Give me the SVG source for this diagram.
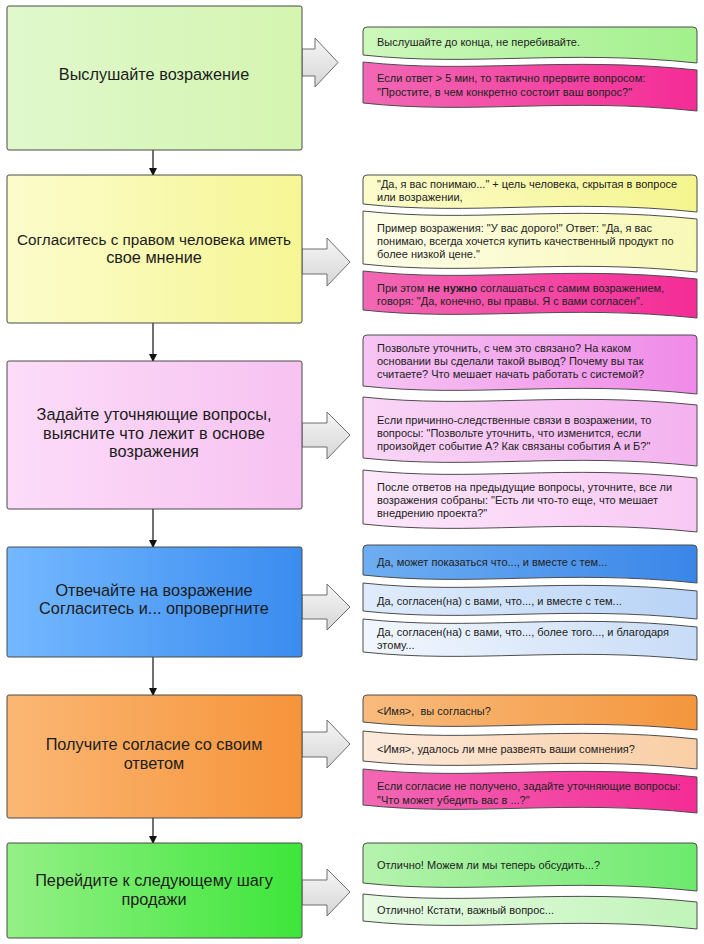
<svg xmlns="http://www.w3.org/2000/svg" width="704" height="944" viewBox="0 0 704 944">
<defs>
<linearGradient id="gB1" x1="0" y1="0" x2="1" y2="0"><stop offset="0" stop-color="#e0f8cc"/><stop offset="1" stop-color="#d4f5b0"/></linearGradient>
<linearGradient id="gB2" x1="0" y1="0" x2="1" y2="0"><stop offset="0" stop-color="#fcfccc"/><stop offset="1" stop-color="#f6f694"/></linearGradient>
<linearGradient id="gB3" x1="0" y1="0" x2="1" y2="0"><stop offset="0" stop-color="#fcdcf9"/><stop offset="1" stop-color="#f7c2f1"/></linearGradient>
<linearGradient id="gB4" x1="0" y1="0" x2="1" y2="0"><stop offset="0" stop-color="#74b8ff"/><stop offset="1" stop-color="#3a8cf0"/></linearGradient>
<linearGradient id="gB5" x1="0" y1="0" x2="1" y2="0"><stop offset="0" stop-color="#fbb774"/><stop offset="1" stop-color="#f6943a"/></linearGradient>
<linearGradient id="gB6" x1="0" y1="0" x2="1" y2="0"><stop offset="0" stop-color="#94f086"/><stop offset="1" stop-color="#3de63a"/></linearGradient>
<linearGradient id="gArr" x1="0" y1="0" x2="0" y2="1"><stop offset="0" stop-color="#f6f6f6"/><stop offset="1" stop-color="#d6d6d6"/></linearGradient>
<linearGradient id="nGreen" x1="0" y1="0" x2="1" y2="0"><stop offset="0" stop-color="#cdf8bc"/><stop offset="1" stop-color="#a2f08c"/></linearGradient>
<linearGradient id="nPink" x1="0" y1="0" x2="1" y2="0"><stop offset="0" stop-color="#f268b4"/><stop offset="1" stop-color="#f42c96"/></linearGradient>
<linearGradient id="nY1" x1="0" y1="0" x2="1" y2="0"><stop offset="0" stop-color="#fcfccc"/><stop offset="1" stop-color="#f5f58e"/></linearGradient>
<linearGradient id="nY2" x1="0" y1="0" x2="1" y2="0"><stop offset="0" stop-color="#fefee8"/><stop offset="1" stop-color="#f8f8b6"/></linearGradient>
<linearGradient id="nV1" x1="0" y1="0" x2="1" y2="0"><stop offset="0" stop-color="#f6c4f3"/><stop offset="1" stop-color="#f08ae8"/></linearGradient>
<linearGradient id="nV2" x1="0" y1="0" x2="1" y2="0"><stop offset="0" stop-color="#f9d6f7"/><stop offset="1" stop-color="#f4b2ef"/></linearGradient>
<linearGradient id="nV3" x1="0" y1="0" x2="1" y2="0"><stop offset="0" stop-color="#fde8fb"/><stop offset="1" stop-color="#f8c8f4"/></linearGradient>
<linearGradient id="nBl1" x1="0" y1="0" x2="1" y2="0"><stop offset="0" stop-color="#6eaef2"/><stop offset="1" stop-color="#3a86e8"/></linearGradient>
<linearGradient id="nBl2" x1="0" y1="0" x2="1" y2="0"><stop offset="0" stop-color="#e0ecfc"/><stop offset="1" stop-color="#b8d3f6"/></linearGradient>
<linearGradient id="nBl3" x1="0" y1="0" x2="1" y2="0"><stop offset="0" stop-color="#f2f7fe"/><stop offset="1" stop-color="#c8dcf7"/></linearGradient>
<linearGradient id="nO1" x1="0" y1="0" x2="1" y2="0"><stop offset="0" stop-color="#f9bb7e"/><stop offset="1" stop-color="#f4963c"/></linearGradient>
<linearGradient id="nO2" x1="0" y1="0" x2="1" y2="0"><stop offset="0" stop-color="#fdeadb"/><stop offset="1" stop-color="#f9cea4"/></linearGradient>
<linearGradient id="nG1" x1="0" y1="0" x2="1" y2="0"><stop offset="0" stop-color="#b6f3ae"/><stop offset="1" stop-color="#6cea6c"/></linearGradient>
<linearGradient id="nG2" x1="0" y1="0" x2="1" y2="0"><stop offset="0" stop-color="#e8fbe4"/><stop offset="1" stop-color="#c0f4b8"/></linearGradient>
<marker id="ah" markerWidth="8" markerHeight="8" refX="7" refY="4" orient="auto" markerUnits="userSpaceOnUse"><path d="M0,0 L8,4 L0,8 Z" fill="#111"/></marker>
</defs>
<style>
.box{stroke:#4a4a4a;stroke-width:1}
.note{stroke:#4d4d4d;stroke-width:1}
.bt{font-family:"Liberation Sans",Arial,sans-serif;font-size:16.3px;fill:#1c1c1c;text-anchor:middle}
.nt{font-family:"Liberation Sans",Arial,sans-serif;font-size:11px;fill:#222;white-space:pre}
.garr{fill:url(#gArr);stroke:#6e6e6e;stroke-width:1}
.conn{stroke:#111;stroke-width:1.2;fill:none}
</style>
<rect width="704" height="944" fill="#ffffff"/>

<g id="connectors">
<line class="conn" x1="153" y1="150" x2="153" y2="175" marker-end="url(#ah)"/>
<line class="conn" x1="153" y1="323" x2="153" y2="361" marker-end="url(#ah)"/>
<line class="conn" x1="153" y1="509" x2="153" y2="547" marker-end="url(#ah)"/>
<line class="conn" x1="153" y1="657" x2="153" y2="695" marker-end="url(#ah)"/>
<line class="conn" x1="153" y1="818" x2="153" y2="843" marker-end="url(#ah)"/>
<path class="garr" d="M302,49 L315,49 L315,38 L338,62.5 L315,87 L315,76 L302,76 Z"/>
<path class="garr" d="M302,249 L327,249 L327,238 L350,262 L327,286 L327,274 L302,274 Z"/>
<path class="garr" d="M302,423 L327,423 L327,412 L350,435 L327,459 L327,447 L302,447 Z"/>
<path class="garr" d="M302,595 L327,595 L327,584 L350,607 L327,630 L327,619 L302,619 Z"/>
<path class="garr" d="M302,732 L327,732 L327,720 L350,744 L327,768 L327,757 L302,757 Z"/>
<path class="garr" d="M302,880 L327,880 L327,869 L350,892 L327,916 L327,905 L302,905 Z"/>
</g>

<g id="step1">
<rect class="box" x="7" y="6" width="295" height="144" rx="2" fill="url(#gB1)"/>
<text class="bt" x="154" y="79.5">Выслушайте возражение</text>
</g>
<g id="step2">
<rect class="box" x="7" y="175" width="295" height="148" rx="2" fill="url(#gB2)"/>
<text class="bt" x="154" y="244.5" style="font-size:15.3px">Согласитесь с правом человека иметь</text>
<text class="bt" x="154" y="262.5">свое мнение</text>
</g>
<g id="step3">
<rect class="box" x="7" y="361" width="295" height="148" rx="2" fill="url(#gB3)"/>
<text class="bt" x="154" y="420">Задайте уточняющие вопросы,</text>
<text class="bt" x="154" y="439">выясните что лежит в основе</text>
<text class="bt" x="154" y="457">возражения</text>
</g>
<g id="step4">
<rect class="box" x="7" y="547" width="295" height="110" rx="2" fill="url(#gB4)"/>
<text class="bt" x="154" y="596">Отвечайте на возражение</text>
<text class="bt" x="154" y="614">Согласитесь и... опровергните</text>
</g>
<g id="step5">
<rect class="box" x="7" y="695" width="295" height="123" rx="2" fill="url(#gB5)"/>
<text class="bt" x="154" y="750">Получите согласие со своим</text>
<text class="bt" x="154" y="769">ответом</text>
</g>
<g id="step6">
<rect class="box" x="7" y="843" width="295" height="95" rx="2" fill="url(#gB6)"/>
<text class="bt" x="154" y="886">Перейдите к следующему шагу</text>
<text class="bt" x="154" y="905">продажи</text>
</g>

<g id="note1a">
<path class="note" fill="url(#nGreen)" d="M363,31 Q363,27 367,27 L693,27 Q697,27 697,31 L697,63 C563,49 474,67 363,55 Z"/>
<text class="nt" x="377" y="46">Выслушайте до конца, не перебивайте.</text>
</g>
<g id="note1b">
<path class="note" fill="url(#nPink)" d="M363,62 C474,74 563,56 697,70 L697,111 C563,97 474,115 363,103 Z"/>
<text class="nt" x="377" y="82">Если ответ &gt; 5 мин, то тактично прервите вопросом:</text>
<text class="nt" x="377" y="96">"Простите, в чем конкретно состоит ваш вопрос?"</text>
</g>

<g id="note2a">
<path class="note" fill="url(#nY1)" d="M363,179 Q363,175 367,175 L693,175 Q697,175 697,179 L697,212 C563,198 474,216 363,204 Z"/>
<text class="nt" x="377" y="188">"Да, я вас понимаю..." + цель человека, скрытая в вопросе</text>
<text class="nt" x="377" y="201">или возражении,</text>
</g>
<g id="note2b">
<path class="note" fill="url(#nY2)" d="M363,211 C474,223 563,205 697,219 L697,272 C563,258 474,276 363,264 Z"/>
<text class="nt" x="377" y="232">Пример возражения: "У вас дорого!" Ответ: "Да, я вас</text>
<text class="nt" x="377" y="245">понимаю, всегда хочется купить качественный продукт по</text>
<text class="nt" x="377" y="258">более низкой цене."</text>
</g>
<g id="note2c">
<path class="note" fill="url(#nPink)" d="M363,271 C474,283 563,265 697,279 L697,318 C563,304 474,322 363,310 Z"/>
<text class="nt" x="377" y="292">При этом <tspan font-weight="bold">не нужно</tspan> соглашаться с самим возражением,</text>
<text class="nt" x="377" y="305">говоря: "Да, конечно, вы правы. Я с вами согласен".</text>
</g>

<g id="note3a">
<path class="note" fill="url(#nV1)" d="M363,339 Q363,335 367,335 L693,335 Q697,335 697,339 L697,394 C563,380 474,398 363,386 Z"/>
<text class="nt" x="377" y="352">Позвольте уточнить, с чем это связано? На каком</text>
<text class="nt" x="377" y="365">основании вы сделали такой вывод? Почему вы так</text>
<text class="nt" x="377" y="378">считаете? Что мешает начать работать с системой?</text>
</g>
<g id="note3b">
<path class="note" fill="url(#nV2)" d="M363,397 C474,409 563,391 697,405 L697,466 C563,452 474,470 363,458 Z"/>
<text class="nt" x="377" y="424">Если причинно-следственные связи в возражении, то</text>
<text class="nt" x="377" y="437">вопросы: "Позвольте уточнить, что изменится, если</text>
<text class="nt" x="377" y="450">произойдет событие А? Как связаны события А и Б?"</text>
</g>
<g id="note3c">
<path class="note" fill="url(#nV3)" d="M363,470 C474,482 563,464 697,478 L697,532 C563,518 474,536 363,524 Z"/>
<text class="nt" x="377" y="491">После ответов на предыдущие вопросы, уточните, все ли</text>
<text class="nt" x="377" y="504">возражения собраны: "Есть ли что-то еще, что мешает</text>
<text class="nt" x="377" y="517">внедрению проекта?"</text>
</g>

<g id="note4a">
<path class="note" fill="url(#nBl1)" d="M363,549 Q363,545 367,545 L693,545 Q697,545 697,549 L697,583 C563,569 474,587 363,575 Z"/>
<text class="nt" x="377" y="566">Да, может показаться что..., и вместе с тем...</text>
</g>
<g id="note4b">
<path class="note" fill="url(#nBl2)" d="M363,583 C474,595 563,577 697,591 L697,619 C563,605 474,623 363,611 Z"/>
<text class="nt" x="377" y="605">Да, согласен(на) с вами, что..., и вместе с тем...</text>
</g>
<g id="note4c">
<path class="note" fill="url(#nBl3)" d="M363,619 C474,631 563,613 697,627 L697,660 C563,646 474,664 363,652 Z"/>
<text class="nt" x="377" y="636">Да, согласен(на) с вами, что..., более того..., и благодаря</text>
<text class="nt" x="377" y="649">этому...</text>
</g>

<g id="note5a">
<path class="note" fill="url(#nO1)" d="M363,699 Q363,695 367,695 L693,695 Q697,695 697,699 L697,730 C563,716 474,734 363,722 Z"/>
<text class="nt" x="377" y="715" xml:space="preserve">&lt;Имя&gt;,  вы согласны?</text>
</g>
<g id="note5b">
<path class="note" fill="url(#nO2)" d="M363,731 C474,743 563,725 697,739 L697,769 C563,755 474,773 363,761 Z"/>
<text class="nt" x="377" y="753">&lt;Имя&gt;, удалось ли мне развеять ваши сомнения?</text>
</g>
<g id="note5c">
<path class="note" fill="url(#nPink)" d="M363,769 C474,781 563,763 697,777 L697,813 C563,799 474,817 363,805 Z"/>
<text class="nt" x="377" y="790">Если согласие не получено, задайте уточняющие вопросы:</text>
<text class="nt" x="377" y="804">"Что может убедить вас в ...?"</text>
</g>

<g id="note6a">
<path class="note" fill="url(#nG1)" d="M363,847 Q363,843 367,843 L693,843 Q697,843 697,847 L697,891 C563,877 474,895 363,883 Z"/>
<text class="nt" x="377" y="869">Отлично! Можем ли мы теперь обсудить...?</text>
</g>
<g id="note6b">
<path class="note" fill="url(#nG2)" d="M363,894 C474,906 563,888 697,902 L697,929 C563,915 474,933 363,921 Z"/>
<text class="nt" x="377" y="914">Отлично! Кстати, важный вопрос...</text>
</g>
</svg>
